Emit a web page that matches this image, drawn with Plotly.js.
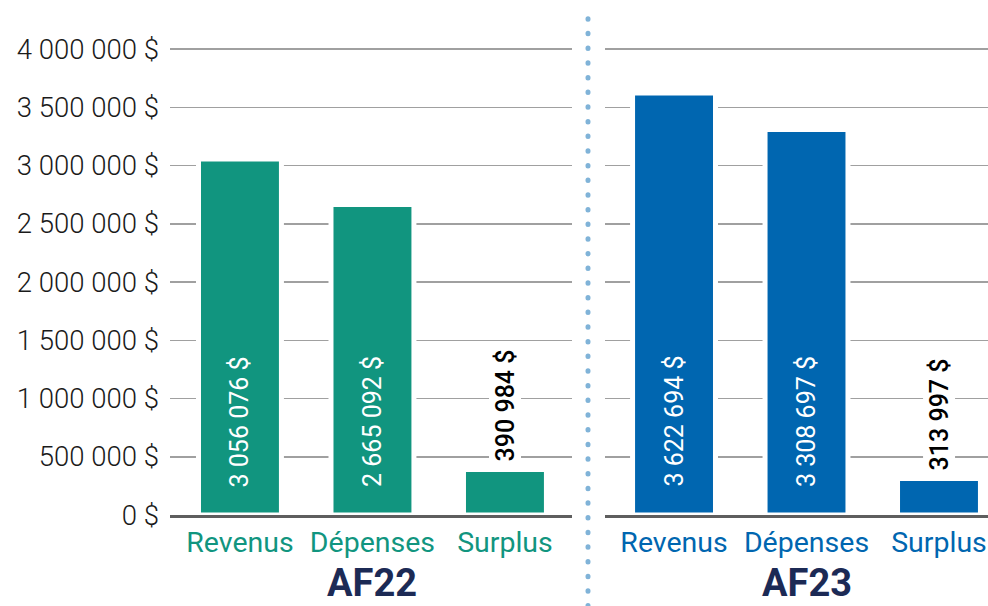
<!DOCTYPE html>
<html>
<head>
<meta charset="utf-8">
<script src="https://cdn.plot.ly/plotly-3.0.1.min.js"></script>
<style>
  html, body { margin: 0; padding: 0; background: #ffffff; }
  #chart { width: 988px; height: 606px; }
</style>
</head>
<body>
<div id="chart"></div>
<script>
// ---- Data ----
const categories = ['Revenus', 'Dépenses', 'Surplus'];
const yearLabels = ['AF22', 'AF23'];
const valuesAF22 = [3056076, 2665092, 390984];
const valuesAF23 = [3622694, 3308697, 313997];
const tickValues = [0, 500000, 1000000, 1500000, 2000000, 2500000, 3000000, 3500000, 4000000];

// ---- Helpers ----
function fmt(v) {
  return String(v).replace(/\B(?=(\d{3})+(?!\d))/g, ' ') + ' $';
}

const GREEN = '#11957f';
const BLUE = '#0066b0';
const NAVY = '#1c2a55';
const FONT = 'Roboto, "Open Sans", sans-serif';

const traces = [
  {
    type: 'bar', x: categories, y: valuesAF22, xaxis: 'x', yaxis: 'y',
    marker: { color: GREEN, line: { color: '#ffffff', width: 5 } },
    hoverinfo: 'skip', showlegend: false
  },
  {
    type: 'bar', x: categories, y: valuesAF23, xaxis: 'x2', yaxis: 'y2',
    marker: { color: BLUE, line: { color: '#ffffff', width: 5 } },
    hoverinfo: 'skip', showlegend: false
  }
];

const annotations = [];
[[valuesAF22, 'x', 'y'], [valuesAF23, 'x2', 'y2']].forEach(function (set, si) {
  const vals = set[0], xr = set[1], yr = set[2];
  vals.forEach(function (v, i) {
    const inside = i < 2;
    if (inside) {
      annotations.push({
        xref: xr, yref: yr, x: categories[i], y: 0,
        text: fmt(v), showarrow: false, textangle: -90,
        yanchor: 'bottom', xanchor: 'center', yshift: 26,
        font: { family: FONT, size: 25, color: '#ffffff' }
      });
    } else {
      annotations.push({
        xref: xr, yref: yr, x: categories[i], y: v,
        text: fmt(v), showarrow: false, textangle: -90,
        yanchor: 'bottom', xanchor: 'center', yshift: 6,
        bgcolor: '#ffffff', borderpad: 1,
        font: { family: FONT, size: 25, color: '#000000', weight: 500 }
      });
    }
  });
  annotations.push({
    xref: xr, yref: 'paper', x: categories[1], y: 0,
    text: '<b>' + yearLabels[si] + '</b>', showarrow: false,
    yanchor: 'bottom', xanchor: 'center', borderpad: 0,
    font: { family: FONT, size: 38, color: NAVY }
  });
});

const yDomain = [0.150165, 0.938366];
const yCommon = {
  range: [0, 4100000], domain: yDomain,
  tickvals: tickValues,
  showgrid: true, gridcolor: '#a0a0a0', gridwidth: 1.5,
  zeroline: false, showline: false, ticks: '', fixedrange: true
};

const layout = {
  width: 988, height: 606, autosize: false,
  margin: { l: 0, r: 0, t: 0, b: 0, pad: 0 },
  paper_bgcolor: '#ffffff', plot_bgcolor: '#ffffff',
  bargap: 0.374,
  font: { family: FONT },
  xaxis: {
    domain: [170 / 988, 572 / 988], range: [-0.528, 2.506],
    type: 'category', anchor: 'y',
    showline: true, linecolor: '#5e5e5e', linewidth: 2.5,
    ticks: '', showgrid: false, zeroline: false,
    tickfont: { family: FONT, size: 28.5, color: GREEN },
    fixedrange: true
  },
  xaxis2: {
    domain: [605 / 988, 1], range: [-0.521, 2.370],
    type: 'category', anchor: 'y2',
    showline: true, linecolor: '#5e5e5e', linewidth: 2.5,
    ticks: '', showgrid: false, zeroline: false,
    tickfont: { family: FONT, size: 28.5, color: BLUE },
    fixedrange: true
  },
  yaxis: Object.assign({}, yCommon, {
    anchor: 'x',
    ticktext: tickValues.map(fmt),
    ticklabelstandoff: 10,
    tickfont: { family: FONT, size: 27.5, color: '#1a1a1a', weight: 300 }
  }),
  yaxis2: Object.assign({}, yCommon, {
    anchor: 'x2', showticklabels: false
  }),
  shapes: [{
    type: 'line', xref: 'paper', yref: 'paper',
    x0: 588 / 988, x1: 588 / 988, y0: 0, y1: (606 - 17) / 606,
    line: { color: '#80b3d8', width: 5, dash: '0.5px,14.17px' },
    layer: 'above'
  }],
  annotations: annotations
};

Plotly.newPlot('chart', traces, layout, { staticPlot: true, displayModeBar: false }).then(function () {
  document.querySelectorAll('.shapelayer path').forEach(function (p) {
    p.style.strokeLinecap = 'round';
  });
});
</script>
</body>
</html>
